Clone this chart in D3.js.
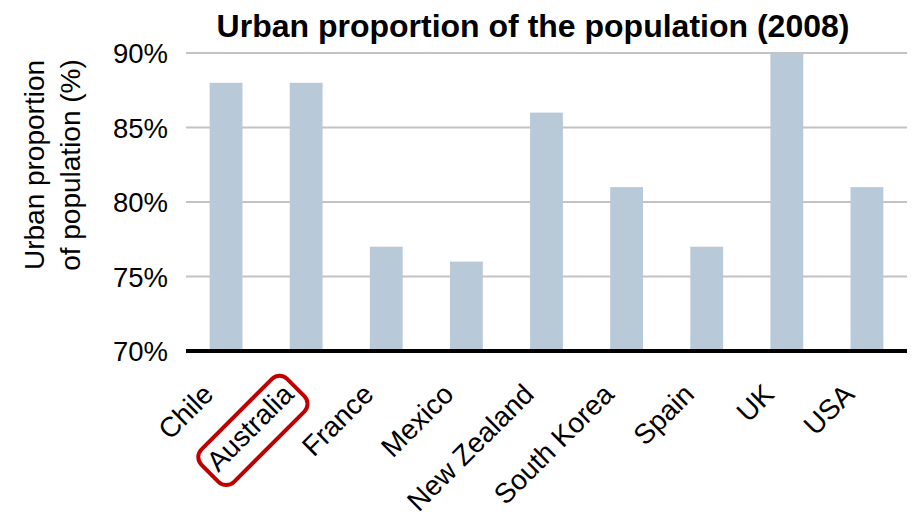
<!DOCTYPE html>
<html>
<head>
<meta charset="utf-8">
<script src="https://cdn.jsdelivr.net/npm/d3@7"></script>
<style>
  html, body { margin: 0; padding: 0; background: #fff; }
  text { font-family: "Liberation Sans", Arial, sans-serif; fill: #000; }
</style>
</head>
<body>
<svg id="chart" width="912" height="516"></svg>
<script>
// Urban share of population by country, 2008
const countries = ["Chile", "Australia", "France", "Mexico", "New Zealand", "South Korea", "Spain", "UK", "USA"];
const urbanShare = [88, 88, 77, 76, 86, 81, 77, 90, 81];
const yTicks = [70, 75, 80, 85, 90];
const highlighted = ["Australia"];

const svg = d3.select("#chart");
const plot = { left: 186, right: 907, top: 53, bottom: 351 };

const x = d3.scaleBand()
  .domain(countries)
  .range([plot.left, plot.right])
  .paddingInner(0.59)
  .paddingOuter(0.295);

const y = d3.scaleLinear()
  .domain([70, 90])
  .range([plot.bottom, plot.top]);

// Title
svg.append("text")
  .attr("x", 533)
  .attr("y", 37)
  .attr("text-anchor", "middle")
  .style("font-size", "32px")
  .style("font-weight", "bold")
  .text("Urban proportion of the population (2008)");

// Horizontal gridlines
svg.append("g")
  .selectAll("line")
  .data(yTicks.filter(t => t > 70))
  .join("line")
  .attr("x1", plot.left)
  .attr("x2", plot.right)
  .attr("y1", d => y(d))
  .attr("y2", d => y(d))
  .attr("stroke", "#c3c3c3")
  .attr("stroke-width", 2);

// Y axis tick labels
const yAxis = d3.axisLeft(y)
  .tickValues(yTicks)
  .tickFormat(d => d + "%")
  .tickSize(0)
  .tickPadding(18);

const yAxisG = svg.append("g")
  .attr("transform", `translate(${plot.left},0)`)
  .call(yAxis);
yAxisG.select(".domain").remove();
yAxisG.selectAll("text")
  .style("font-size", "27.5px")
  .style("font-family", "'Liberation Sans', Arial, sans-serif")
  .attr("dy", "0.36em");

// Bars
svg.append("g")
  .selectAll("rect")
  .data(countries.map((c, i) => ({ country: c, value: urbanShare[i] })))
  .join("rect")
  .attr("x", d => x(d.country))
  .attr("width", x.bandwidth())
  .attr("y", d => y(d.value))
  .attr("height", d => y(70) - y(d.value))
  .attr("fill", "#b8cad8");

// Baseline
svg.append("line")
  .attr("x1", plot.left)
  .attr("x2", plot.right)
  .attr("y1", y(70))
  .attr("y2", y(70))
  .attr("stroke", "#000")
  .attr("stroke-width", 4);

// Rotated category labels
const labels = svg.append("g")
  .selectAll("g")
  .data(countries)
  .join("g")
  .attr("transform", d => `translate(${x(d) + x.bandwidth() / 2 - 11},${y(70) + 45}) rotate(-45)`);

labels.append("text")
  .attr("text-anchor", "end")
  .style("font-size", "28px")
  .text(d => d);

// Rounded outline around the highlighted category
labels.filter(d => highlighted.includes(d)).each(function () {
  const g = d3.select(this);
  const bb = g.select("text").node().getBBox();
  const padX = 6, boxH = 46;
  const cy = bb.y + bb.height / 2 + 4;
  g.insert("rect", "text")
    .attr("x", bb.x - padX)
    .attr("y", cy - boxH / 2)
    .attr("width", bb.width + 2 * padX)
    .attr("height", boxH)
    .attr("rx", 11)
    .attr("fill", "none")
    .attr("stroke", "#c00000")
    .attr("stroke-width", 4);
});

// Y axis title
svg.append("text")
  .attr("transform", "translate(44,165) rotate(-90)")
  .attr("text-anchor", "middle")
  .style("font-size", "28px")
  .selectAll("tspan")
  .data(["Urban proportion", "of population (%)"])
  .join("tspan")
  .attr("x", 0)
  .attr("dy", (d, i) => i === 0 ? 0 : 36)
  .text(d => d);
</script>
</body>
</html>
